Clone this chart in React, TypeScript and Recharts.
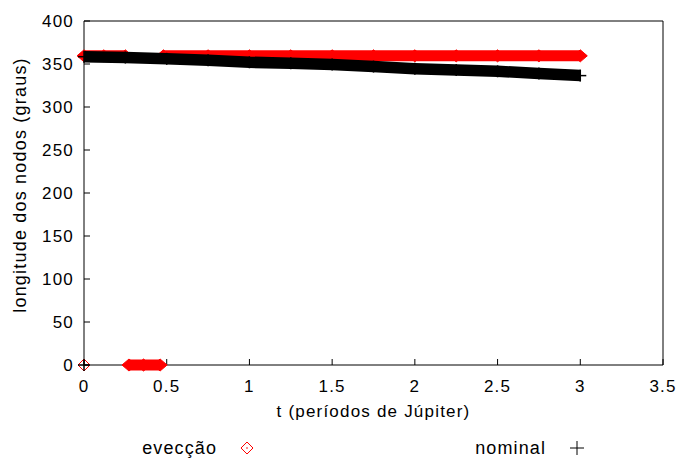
import { ComposedChart, Scatter, XAxis, YAxis, Legend } from 'recharts'

// evecção: longitude near 360, wraps to ~0 for a short stretch
const evecFirst = [
    { t: 0, v: 359.5 },
    { t: 0.12, v: 359.5 },
    { t: 0.25, v: 359.5 },
]
const evecWrapped = [
    { t: 0.272, v: 0 },
    { t: 0.36, v: 0 },
    { t: 0.46, v: 0 },
]
const evecRest = [
    { t: 0.48, v: 359.5 },
    { t: 0.75, v: 359.5 },
    { t: 1.0, v: 359.5 },
    { t: 1.25, v: 359.5 },
    { t: 1.5, v: 359.5 },
    { t: 1.75, v: 359.5 },
    { t: 2.0, v: 359.5 },
    { t: 2.25, v: 359.5 },
    { t: 2.5, v: 359.5 },
    { t: 2.75, v: 359.5 },
    { t: 3.0, v: 359.5 },
]
const evecOrigin = [{ t: 0, v: 0 }]

const nominal = [
    { t: 0, v: 358.5 },
    { t: 0.25, v: 357.5 },
    { t: 0.5, v: 356 },
    { t: 0.75, v: 354.5 },
    { t: 1.0, v: 352 },
    { t: 1.25, v: 351 },
    { t: 1.5, v: 349.5 },
    { t: 1.75, v: 347 },
    { t: 2.0, v: 344.5 },
    { t: 2.25, v: 343 },
    { t: 2.5, v: 341.5 },
    { t: 2.75, v: 339 },
    { t: 3.0, v: 336.5 },
]
const nominalOrigin = [{ t: 0, v: 0 }]

const xTicks = [0, 0.5, 1, 1.5, 2, 2.5, 3, 3.5]
const yTicks = [0, 50, 100, 150, 200, 250, 300, 350, 400]

const FONT = '"Liberation Sans", Arial, Helvetica, sans-serif'
const RED = '#ff0000'
const tickStyle = { fontSize: 17, fill: '#000', fontFamily: FONT }

const Diamond = (props: any) => {
    const { cx, cy } = props
    if (cx == null || cy == null) return null
    return <path d={`M${cx - 7},${cy} L${cx},${cy - 6} L${cx + 7},${cy} L${cx},${cy + 6} Z`} fill={RED} stroke={RED} />
}

const HollowDiamond = (props: any) => {
    const { cx, cy } = props
    if (cx == null || cy == null) return null
    return (
        <g>
            <path d={`M${cx - 6},${cy} L${cx},${cy - 6} L${cx + 6},${cy} L${cx},${cy + 6} Z`} fill="none" stroke={RED} strokeWidth={1} />
            <circle cx={cx} cy={cy} r={0.8} fill={RED} />
        </g>
    )
}

const Plus = (props: any) => {
    const { cx, cy } = props
    if (cx == null || cy == null) return null
    return (
        <g stroke="#000" strokeWidth={1.5}>
            <line x1={cx - 6} y1={cy} x2={cx + 6} y2={cy} />
            <line x1={cx} y1={cy - 6} x2={cx} y2={cy + 6} />
        </g>
    )
}

function KeyBox() {
    const text = { position: 'absolute' as const, top: 0, fontSize: 18, fontFamily: FONT, color: '#000', letterSpacing: '1.1px', lineHeight: '24px' }
    return (
        <div style={{ position: 'relative', width: 683, height: 24 }}>
            <span style={{ ...text, right: 683 - 217 }}>evecção</span>
            <svg style={{ position: 'absolute', left: 239, top: 4 }} width={16} height={16}>
                <path d="M2,8 L8,2 L14,8 L8,14 Z" fill="none" stroke={RED} />
                <circle cx={8} cy={8} r={0.8} fill={RED} />
            </svg>
            <span style={{ ...text, right: 683 - 546 }}>nominal</span>
            <svg style={{ position: 'absolute', left: 569, top: 4 }} width={16} height={16}>
                <line x1={1} y1={8} x2={15} y2={8} stroke="#000" />
                <line x1={8} y1={1} x2={8} y2={15} stroke="#000" />
            </svg>
        </div>
    )
}

export default function App() {
    return (
        <div style={{ position: 'absolute', left: 0, top: 0, background: '#fff', fontFamily: FONT, letterSpacing: '1.2px' }}>
            <ComposedChart width={683} height={458} margin={{ top: 20, right: 19, bottom: 0, left: 0 }}>
                <XAxis
                    dataKey="t"
                    type="number"
                    domain={[0, 3.5]}
                    ticks={xTicks}
                    height={93}
                    tickSize={-6}
                    tickMargin={21}
                    tick={tickStyle}
                    stroke="#000"
                    label={{ value: 't (períodos de Júpiter)', position: 'insideBottom', offset: 41, fontSize: 17, fill: '#000', fontFamily: FONT }}
                />
                <XAxis xAxisId="top" orientation="top" type="number" domain={[0, 3.5]} ticks={xTicks} height={1} tickSize={-6} tick={false} stroke="#000" />
                <YAxis
                    dataKey="v"
                    type="number"
                    domain={[0, 400]}
                    ticks={yTicks}
                    width={84}
                    tickSize={-6}
                    tickMargin={16}
                    tick={tickStyle}
                    stroke="#000"
                    label={({ viewBox }: any) => (
                        <text x={20} y={185} transform="rotate(-90 20 185)" textAnchor="middle" dominantBaseline="central" fontSize={18} fill="#000" fontFamily={FONT}>
                            longitude dos nodos (graus)
                        </text>
                    )}
                />
                <YAxis yAxisId="right" orientation="right" type="number" domain={[0, 400]} ticks={yTicks} width={1} tickSize={-6} tick={false} stroke="#000" />
                <Legend verticalAlign="middle" align="center" layout="horizontal" wrapperStyle={{ top: 436, left: 0, width: 683, height: 24 }} content={() => <KeyBox />} />
                <Scatter name="evecção" data={evecFirst} fill={RED} line={{ stroke: RED, strokeWidth: 11 }} shape={Diamond} isAnimationActive={false} />
                <Scatter name="evecção" data={evecWrapped} fill={RED} line={{ stroke: RED, strokeWidth: 11 }} shape={Diamond} isAnimationActive={false} />
                <Scatter name="evecção" data={evecRest} fill={RED} line={{ stroke: RED, strokeWidth: 11 }} shape={Diamond} isAnimationActive={false} />
                <Scatter name="evecção" data={evecOrigin} fill={RED} shape={HollowDiamond} isAnimationActive={false} />
                <Scatter name="nominal" data={nominal} fill="#000" line={{ stroke: '#000', strokeWidth: 11.5 }} shape={Plus} isAnimationActive={false} />
                <Scatter name="nominal" data={nominalOrigin} fill="#000" shape={Plus} isAnimationActive={false} />
            </ComposedChart>
        </div>
    )
}
